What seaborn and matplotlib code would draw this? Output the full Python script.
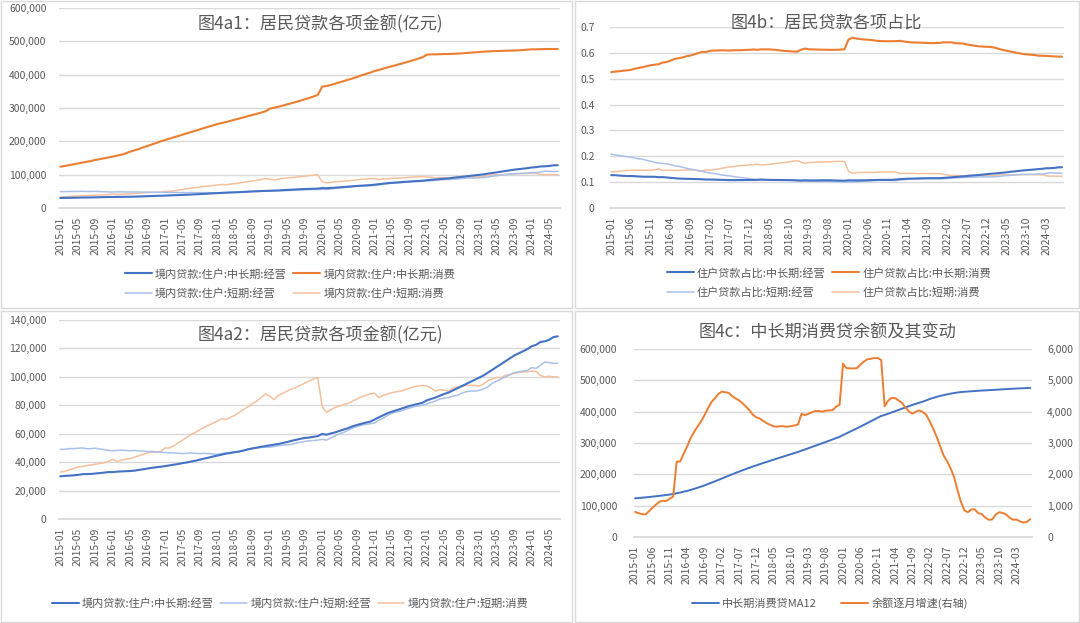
import numpy as np
import pandas as pd
import seaborn as sns
import matplotlib.pyplot as plt
from matplotlib.ticker import FuncFormatter
from matplotlib.lines import Line2D
from matplotlib.patches import Rectangle

months = pd.period_range('2015-01', periods=115, freq='M').strftime('%Y-%m').tolist()

# 住户贷款余额, 千亿元 (one row per year, 2015-01 .. 2024-07)
ml_biz = [30, 30.3, 30.5, 30.7, 31, 31.5, 31.6, 31.7, 32, 32.3, 32.6, 33,
          33, 33.3, 33.5, 33.6, 33.8, 34, 34.5, 35, 35.5, 36, 36.4, 36.8,
          37.2, 37.7, 38.2, 38.7, 39.3, 39.8, 40.4, 41, 41.8, 42.5, 43.2, 44,
          44.6, 45.3, 46, 46.5, 47, 47.5, 48.2, 49, 49.6, 50.2, 50.8, 51.3,
          51.8, 52.3, 52.8, 53.5, 54.2, 55, 55.7, 56.4, 57, 57.3, 57.8, 58.3,
          59.8, 59.3, 60.2, 61, 62, 63, 64, 65.2, 66.2, 67, 67.8, 68.5,
          70, 71.5, 73, 74.5, 75.5, 76.5, 77.5, 78.5, 79.5, 80.3, 81, 81.8,
          83.5, 84.5, 85.5, 86.8, 88, 89, 90.5, 92, 93.5, 95, 96.5, 98,
          99.5, 101, 103, 105, 107, 109, 111, 113, 115, 116.5, 118, 119.5,
          121.5, 122.5, 124.5, 125, 126, 128, 128.5]
ml_cons = [124, 126, 128.5, 131, 133.5, 136, 138.5, 141, 144, 146.5, 149, 151.5,
           154, 157, 160, 164, 169, 173, 177, 182, 186, 191, 195, 200,
           204, 208, 212, 216, 220, 224, 228, 232, 236, 240, 244, 248,
           252, 255, 258, 261.5, 265, 268.5, 272, 275.5, 279, 282.5, 286, 290,
           298, 301, 304, 307.5, 311, 314.5, 318, 322, 326, 330, 334.5, 339,
           364, 366, 369, 373, 377, 381, 385, 389, 393, 398, 402, 406,
           411, 414, 418, 422, 425.5, 429, 432.5, 436, 440, 444, 448, 452,
           460, 461, 461, 461.5, 462, 462, 462.5, 463, 464, 465, 466, 467,
           468, 469, 469.5, 470.5, 471, 471, 472, 472, 472.5, 473, 474, 475,
           476, 476, 476.5, 477, 477, 477, 477]
st_biz = [49, 49, 49.5, 49.5, 49.8, 50, 49.5, 49.5, 49.8, 49.2, 48.8, 48.3,
          48, 48.2, 48.5, 48.2, 48, 48.2, 48, 47.7, 47.5, 47.5, 47.2, 47,
          46.8, 46.5, 46.5, 46.3, 46, 46.2, 46.5, 46.2, 46, 46.2, 46, 45.8,
          45.5, 46, 46.5, 46.8, 47, 47.5, 48, 49, 49.8, 50, 50.3, 50.5,
          50.5, 51, 51.5, 52, 52.3, 52.6, 53.3, 54, 54.5, 55, 55.2, 55.5,
          56, 55.5, 57, 58.5, 60, 61, 62.5, 64, 65, 66, 66.5, 67,
          67.5, 69.5, 71, 73, 74.5, 75.3, 76, 77, 78, 79, 79.5, 80,
          81, 82, 83, 84.5, 85, 85.5, 86.5, 87, 88.5, 89.5, 90, 90,
          90.5, 91.5, 93, 95.5, 97, 98.5, 100, 101.5, 103, 103.5, 104, 104.5,
          106.5, 106, 108, 110.5, 110, 109.5, 109.5]
st_cons = [33, 33.5, 34.5, 35.5, 36.5, 37, 37.5, 38, 38.5, 39, 39.5, 40.5,
           42, 40.5, 41.5, 42, 42.5, 43.5, 44.5, 45.5, 46.5, 47, 47, 47.5,
           50, 50, 51.5, 53.5, 55.5, 57.5, 59.5, 61, 63, 64.5, 66, 67.5,
           69, 70.5, 70, 71.5, 73, 75, 77, 79, 81, 83, 85.5, 88,
           86.5, 84, 87, 88.5, 90, 91.5, 92.5, 94, 95.5, 97, 98.5, 99.5,
           79, 75, 77, 78.5, 79.5, 80.5, 81.5, 83, 84.5, 86, 87, 88,
           88.5, 85.5, 87, 88, 89, 89.5, 90, 91, 92, 93, 93.5, 94,
           93.5, 92, 90, 91, 90.5, 90, 92, 93, 93.5, 94, 94, 94,
           93.5, 95, 97.5, 98.5, 99.5, 99.5, 101, 101.5, 102.5, 103, 103.5, 103.5,
           104, 104, 101, 100, 100.5, 100, 100]

# 图4c: 中长期消费贷 12个月均值 (千亿元) 及其逐月增量 (亿元)
ma12 = [123.5, 124.5, 125.5, 126.5, 127.5, 128.8, 130, 131.3, 132.6, 134, 135.5, 137,
        139.5, 142, 144.5, 147, 150.2, 153.5, 157, 160.7, 164.6, 168.8, 173, 177.5,
        182, 186.5, 191, 195.5, 200, 204.5, 208.7, 212.9, 217, 221, 225, 228.8,
        232.5, 236.2, 239.8, 243.4, 246.9, 250.4, 254, 257.5, 261, 264.5, 268, 271.6,
        275.5, 279.4, 283.3, 287.3, 291.3, 295.3, 299.3, 303.3, 307.3, 311.4, 315.6, 319.8,
        325.3, 330.7, 336, 341.4, 346.8, 352.3, 357.9, 363.6, 369.3, 375, 380.7, 386.3,
        389.5, 393.5, 397.5, 401.5, 405.5, 409.5, 413.5, 417.5, 421.5, 425, 428.5, 432,
        436, 440.5, 444, 447.2, 450.2, 452.8, 455.2, 457.4, 459.4, 461.2, 462.5, 463.5,
        464.3, 465.1, 465.9, 466.7, 467.4, 468, 468.6, 469.2, 469.9, 470.6, 471.3, 472,
        472.6, 473.2, 473.8, 474.3, 474.8, 475.3, 475.8]
ma12_chg = [800, 760, 730, 720, 820, 930, 1030, 1120, 1160, 1150, 1220, 1290,
            2400, 2410, 2650, 2880, 3150, 3350, 3520, 3680, 3880, 4100, 4300, 4420,
            4560, 4640, 4620, 4600, 4500, 4420, 4360, 4270, 4160, 4050, 3900, 3820,
            3780, 3700, 3630, 3580, 3530, 3520, 3540, 3530, 3520, 3540, 3560, 3590,
            3930, 3890, 3930, 3980, 4020, 4020, 4000, 4030, 4040, 4050, 4160, 4220,
            5530, 5390, 5380, 5380, 5390, 5500, 5600, 5670, 5690, 5710, 5710, 5650,
            4170, 4350, 4440, 4430, 4360, 4280, 4130, 4010, 3935, 4000, 4040, 3990,
            3900, 3690, 3460, 3200, 2900, 2600, 2420, 2200, 1920, 1500, 1120, 850,
            790, 880, 880, 760, 730, 620, 550, 560, 710, 790, 770, 720,
            620, 550, 560, 500, 460, 480, 570]

names_a = ['境内贷款:住户:中长期:经营', '境内贷款:住户:中长期:消费',
           '境内贷款:住户:短期:经营', '境内贷款:住户:短期:消费']
names_b = ['住户贷款占比:中长期:经营', '住户贷款占比:中长期:消费',
           '住户贷款占比:短期:经营', '住户贷款占比:短期:消费']
names_c = ['中长期消费贷MA12', '余额逐月增速(右轴)']
titles = ['图4a1：居民贷款各项金额(亿元)', '图4b：居民贷款各项占比',
          '图4a2：居民贷款各项金额(亿元)', '图4c：中长期消费贷余额及其变动']

assert all(len(s) == 115 for s in [ml_biz, ml_cons, st_biz, st_cons, ma12, ma12_chg])

x = np.arange(len(months))
loans = pd.DataFrame({'mlb': ml_biz, 'mlc': ml_cons, 'stb': st_biz, 'stc': st_cons}) * 1000
shares = loans.div(loans.sum(axis=1), axis=0)

sns.set_theme(style='white')
plt.rcParams['font.family'] = ['Noto Sans CJK SC', 'DejaVu Sans']
plt.rcParams['axes.unicode_minus'] = False

DARK, ORANGE, LIGHT, PEACH = '#4472C4', '#ED7D31', '#A9C1EA', '#F5C09C'
GRID, TXT = '#D9D9D9', '#595959'
colors = [DARK, ORANGE, LIGHT, PEACH]
widths = [1.5, 1.5, 1.1, 1.1]

W, H = 1080, 623
fig = plt.figure(figsize=(W / 100, H / 100), dpi=100)


def rect(x0, y0, x1, y1):
    return [x0 / W, 1 - y1 / H, (x1 - x0) / W, (y1 - y0) / H]


def style(ax, step, yticks, fmt, pad=9):
    ax.set_xlim(-0.3, len(months) - 0.5)
    ax.set_ylim(yticks[0], yticks[-1])
    ax.set_yticks(yticks)
    ax.yaxis.set_major_formatter(FuncFormatter(fmt))
    ax.set_xticks(x[::step])
    ax.set_xticklabels(months[::step], rotation=90)
    ax.tick_params(axis='x', length=4, width=0.8, color='#BFBFBF', pad=2,
                   labelsize=7.5, labelcolor=TXT)
    ax.tick_params(axis='y', length=0, pad=pad, labelsize=7.5, labelcolor=TXT)
    ax.grid(axis='y', color=GRID, lw=1)
    ax.grid(axis='x', visible=False)
    for s in ['top', 'right', 'left']:
        ax.spines[s].set_visible(False)
    ax.spines['bottom'].set_color(GRID)
    ax.set_xlabel('')
    ax.set_ylabel('')
    ax.set_facecolor('none')


thousands = lambda v, p: f'{v:,.0f}'
decimal1 = lambda v, p: '0' if v == 0 else f'{v:.1f}'

# panel frames
for x0, y0, x1, y1 in [(1, 1, 572, 308), (575, 1, 1079, 308),
                       (1, 311, 572, 622), (575, 311, 1079, 622)]:
    fig.add_artist(Rectangle((x0 / W, 1 - y1 / H), (x1 - x0) / W, (y1 - y0) / H,
                             transform=fig.transFigure, fill=False,
                             ec='#D9D9D9', lw=1))

cols = ['mlb', 'mlc', 'stb', 'stc']
leg_kw = dict(loc='center', frameon=False, fontsize=8, handlelength=2.4,
              handletextpad=0.3, columnspacing=0.6, labelspacing=0.75,
              labelcolor=TXT)

# 图4a1
ax = fig.add_axes(rect(59, 8, 560, 208))
for c, col, lw in zip(cols[::-1], colors[::-1], widths[::-1]):
    sns.lineplot(x=x, y=loans[c].values, ax=ax, color=col, lw=lw)
style(ax, 4, np.arange(0, 600001, 100000), thousands)
h = [Line2D([], [], color=c, lw=w) for c, w in zip(colors, widths)]
fig.legend([h[0], h[2], h[1], h[3]], [names_a[0], names_a[2], names_a[1], names_a[3]],
           ncol=2, bbox_to_anchor=(290 / W, 1 - 283.5 / H), **leg_kw)
fig.text(320 / W, 1 - 24 / H, titles[0], ha='center', va='center', fontsize=12.3, color=TXT)

# 图4a2
ax = fig.add_axes(rect(59, 320, 560, 519))
for i in [3, 2, 0]:
    sns.lineplot(x=x, y=loans[cols[i]].values, ax=ax, color=colors[i], lw=widths[i])
style(ax, 4, np.arange(0, 140001, 20000), thousands)
fig.legend([h[0], h[2], h[3]], [names_a[0], names_a[2], names_a[3]], ncol=3,
           bbox_to_anchor=(290 / W, 1 - 603 / H), **leg_kw)
fig.text(320 / W, 1 - 335 / H, titles[2], ha='center', va='center', fontsize=12.3, color=TXT)

# 图4b
ax = fig.add_axes(rect(610, 27, 1064, 208))
for c, col, lw in zip(cols[::-1], colors[::-1], widths[::-1]):
    sns.lineplot(x=x, y=shares[c].values, ax=ax, color=col, lw=lw)
style(ax, 5, np.round(np.arange(0, 0.71, 0.1), 1), decimal1, pad=11)
fig.legend([h[0], h[2], h[1], h[3]], [names_b[0], names_b[2], names_b[1], names_b[3]],
           ncol=2, bbox_to_anchor=(829 / W, 1 - 282.5 / H), **leg_kw)
fig.text(826 / W, 1 - 23 / H, titles[1], ha='center', va='center', fontsize=12.3, color=TXT)

# 图4c
ax = fig.add_axes(rect(634, 349, 1032, 537))
sns.lineplot(x=x, y=np.array(ma12) * 1000, ax=ax, color=DARK, lw=1.4)
style(ax, 5, np.arange(0, 600001, 100000), thousands, pad=12)
ax2 = ax.twinx()
sns.lineplot(x=x, y=ma12_chg, ax=ax2, color=ORANGE, lw=1.4)
ax2.set_ylim(0, 6000)
ax2.set_yticks(np.arange(0, 6001, 1000))
ax2.yaxis.set_major_formatter(FuncFormatter(thousands))
ax2.tick_params(axis='y', length=0, pad=11, labelsize=7.5, labelcolor=TXT)
ax2.grid(False)
for s in ax2.spines.values():
    s.set_visible(False)
ax2.set_ylabel('')
hc = [Line2D([], [], color=DARK, lw=1.4), Line2D([], [], color=ORANGE, lw=1.4)]
fig.legend(hc, names_c, ncol=2, bbox_to_anchor=(830 / W, 1 - 603 / H),
           **dict(leg_kw, columnspacing=2.2))
fig.text(828 / W, 1 - 332 / H, titles[3], ha='center', va='center', fontsize=12.3, color=TXT)

fig.savefig('out.png', dpi=100, facecolor='white')
